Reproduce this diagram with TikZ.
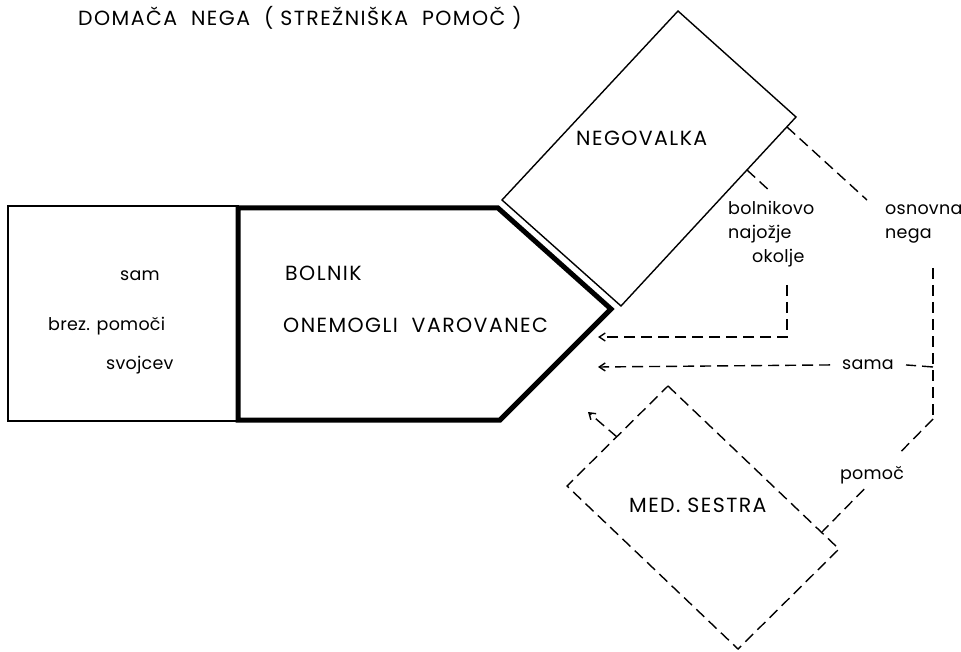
\documentclass[tikz,border=0pt]{standalone}
\usepackage{fontspec}
\setmainfont{Poppins}
\newfontfamily\capf[LetterSpace=7]{Poppins}
\newfontfamily\lowf[LetterSpace=1.5]{Poppins}
\usetikzlibrary{arrows.meta,calc}
\begin{document}
\begin{tikzpicture}[x=1pt,y=-1pt,
  thinline/.style={line width=1.4pt, line join=miter},
  heavy/.style={line width=5pt, line join=miter},
  dashline/.style={line width=1.4pt, dash pattern=on 11pt off 6pt},
  arr/.style={dashline, -{Straight Barb[length=6pt,width=8pt]}},
  captxt/.style={inner sep=0pt, font=\capf\fontsize{20.5}{24}\selectfont},
  lowtxt/.style={inner sep=0pt, font=\lowf\fontsize{17.5}{20}\selectfont},
]
\useasboundingbox (0,0) rectangle (961,652);

% title
\node (title) [captxt, anchor=mid west] at (78,23) {DOMAČA\hspace{14pt}NEGA\hspace{14pt}(\hspace{7pt}STREŽNIŠKA\hspace{14pt}POMOČ\hspace{7pt})};

% left box
\coordinate (L1) at (8,206);
\coordinate (L2) at (238,421);
\draw[thinline] (L1) rectangle (L2);

% patient pentagon
\coordinate (P1) at (238,208);
\coordinate (P2) at (498,208);
\coordinate (P3) at (611,309);
\coordinate (P4) at (500,420);
\coordinate (P5) at (238,420);
\draw[heavy] (P1) -- (P2) -- (P3) -- (P4) -- (P5) -- cycle;

% Negovalka
\coordinate (NL) at (502,200);
\coordinate (NT) at (678,11);
\coordinate (NR) at (796,117);
\coordinate (NB) at (621,306);
\draw[thinline] (NL) -- (NT) -- (NR) -- (NB) -- cycle;

% Med. sestra
\coordinate (MT) at (668,386);
\coordinate (MR) at (839,549);
\coordinate (MB) at (738,649);
\coordinate (ML) at (567,486);
\draw[dashline] (MT) -- (MR) -- (MB) -- (ML) -- cycle;

% texts
\node (sam) [lowtxt, anchor=mid] at (140,278) {sam};
\node (brez) [lowtxt, anchor=mid west] at (48,328) {brez. pomoči};
\node (svoj) [lowtxt, anchor=mid west] at (106,367) {svojcev};
\node (bolnik) [captxt, anchor=mid west] at (285,278) {BOLNIK};
\node (onem) [captxt, anchor=mid west] at (283,330) {ONEMOGLI\ \ VAROVANEC};
\node (neg) [captxt, anchor=mid west] at (576,143) {NEGOVALKA};
\node (med) [captxt, anchor=mid west] at (629,510) {MED. SESTRA};
\node (bol1) [lowtxt, anchor=mid west] at (728,212) {bolnikovo};
\node (bol2) [lowtxt, anchor=mid west] at (728,236) {najožje};
\node (bol3) [lowtxt, anchor=mid west] at (752,260) {okolje};
\node (osn1) [lowtxt, anchor=mid west] at (885,212) {osnovna};
\node (osn2) [lowtxt, anchor=mid west] at (885,236) {nega};
\node (sama) [lowtxt, anchor=mid, inner xsep=12pt] at (868,367) {sama};
\node (pomoc) [lowtxt, anchor=mid] at (872,477) {pomoč};

% connectors
\coordinate (e1) at (747,170);
\coordinate (e1b) at (772,193);
\draw[dashline] (e1) -- (e1b);
\coordinate (e2) at (787,127);
\coordinate (e2b) at (867,200);
\draw[dashline] (e2) -- (e2b);

\coordinate (v1) at (787,285);
\coordinate (v1b) at (787,337);
\coordinate (a1) at (598,337);
\draw[arr] (v1) -- (v1b) -- (a1);

\coordinate (v2) at (933,268);
\coordinate (j2) at (933,367);
\coordinate (v2b) at (933,419);
\coordinate (a2) at (598,367);
\draw[dashline] (v2) -- (v2b);
\draw[dashline] (j2) -- (sama.east);
\draw[arr] (sama.west) -- (a2);

\coordinate (mp) at (822,532);
\draw[dashline] (v2b) -- ($(v2b)!0.3!(mp)$);
\draw[dashline] ($(v2b)!0.62!(mp)$) -- (mp);

\coordinate (m3) at (617,437);
\coordinate (a3) at (588,412);
\draw[arr] (m3) -- (a3);
\end{tikzpicture}
\end{document}
